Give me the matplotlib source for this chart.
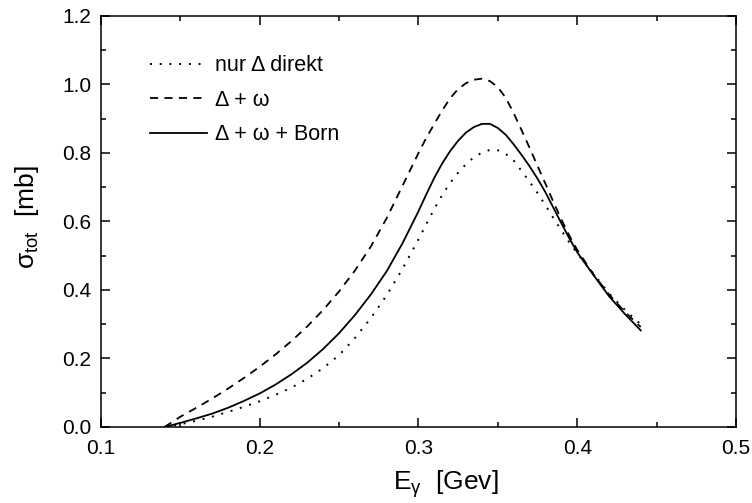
import matplotlib
matplotlib.use("Agg")
import matplotlib.pyplot as plt

plt.rcParams['font.family'] = ['Liberation Sans', 'DejaVu Sans']
plt.rcParams['mathtext.fontset'] = 'custom'
plt.rcParams['mathtext.rm'] = 'Liberation Sans'
plt.rcParams['mathtext.it'] = 'Liberation Sans'

# photon energy [GeV]
energy = [0.14, 0.15, 0.16, 0.17, 0.18, 0.19, 0.20, 0.21, 0.22, 0.23, 0.24, 0.25,
          0.26, 0.27, 0.28, 0.29, 0.30, 0.305, 0.31, 0.315, 0.32, 0.325, 0.33, 0.335,
          0.34, 0.345, 0.35, 0.355, 0.36, 0.365, 0.37, 0.375, 0.38, 0.385, 0.39, 0.395,
          0.40, 0.41, 0.42, 0.43, 0.44]

# nur Delta direkt (dotted)
sig_delta = [0.000, 0.008, 0.018, 0.030, 0.044, 0.059, 0.075, 0.094, 0.115, 0.141, 0.172, 0.210,
             0.260, 0.318, 0.385, 0.462, 0.548, 0.593, 0.637, 0.678, 0.713, 0.743, 0.768, 0.788,
             0.801, 0.809, 0.808, 0.797, 0.778, 0.747, 0.716, 0.683, 0.647, 0.610, 0.574, 0.539,
             0.507, 0.449, 0.390, 0.342, 0.300]

# Delta + omega (dashed)
sig_omega = [0.000, 0.030, 0.056, 0.083, 0.112, 0.143, 0.176, 0.212, 0.251, 0.294, 0.342, 0.396,
             0.457, 0.527, 0.610, 0.705, 0.800, 0.845, 0.885, 0.925, 0.960, 0.987, 1.004, 1.014,
             1.017, 1.010, 0.992, 0.961, 0.916, 0.866, 0.815, 0.762, 0.710, 0.657, 0.606, 0.559,
             0.517, 0.447, 0.387, 0.336, 0.292]

# Delta + omega + Born (solid)
sig_born = [0.000, 0.012, 0.025, 0.039, 0.056, 0.076, 0.098, 0.124, 0.154, 0.188, 0.228, 0.274,
            0.327, 0.387, 0.455, 0.537, 0.630, 0.680, 0.728, 0.770, 0.806, 0.836, 0.860, 0.876,
            0.885, 0.885, 0.873, 0.853, 0.825, 0.794, 0.761, 0.725, 0.685, 0.640, 0.595, 0.551,
            0.510, 0.445, 0.382, 0.330, 0.282]

fig = plt.figure(figsize=(7.52, 5.03), dpi=100)
ax = fig.add_axes([0.1343, 0.1511, 0.8444, 0.8171])

ax.plot(energy, sig_delta, color='black', lw=1.4, linestyle=(0, (1, 4)), label=u'nur \u0394 direkt')
ax.plot(energy, sig_omega, color='black', lw=1.3, linestyle=(0, (4.5, 3.5)), label=u'\u0394 + \u03c9')
ax.plot(energy, sig_born, color='black', lw=1.3, linestyle='-', label=u'\u0394 + \u03c9 + Born')

ax.set_xlim(0.1, 0.5)
ax.set_ylim(0.0, 1.2)
ax.set_xticks([0.1, 0.2, 0.3, 0.4, 0.5])
ax.set_xticks([0.15, 0.25, 0.35, 0.45], minor=True)
ax.set_yticks([0.0, 0.2, 0.4, 0.6, 0.8, 1.0, 1.2])
ax.set_yticks([0.1, 0.3, 0.5, 0.7, 0.9, 1.1], minor=True)
ax.set_xticklabels(['0.1', '0.2', '0.3', '0.4', '0.5'])
ax.set_yticklabels(['0.0', '0.2', '0.4', '0.6', '0.8', '1.0', '1.2'])

ax.tick_params(which='both', direction='in', top=True, right=True, width=1.1)
ax.tick_params(which='major', length=6.5, labelsize=15)
ax.tick_params(axis='x', which='major', pad=9)
ax.tick_params(axis='y', which='major', pad=7)
ax.tick_params(which='minor', length=3.8)
for sp in ax.spines.values():
    sp.set_linewidth(1.1)

ax.set_xlabel(r'E$_{\gamma}$  [Gev]', fontsize=19)
ax.set_ylabel(r'$\sigma_{\mathrm{tot}}$  [mb]', fontsize=19)
ax.xaxis.set_label_coords(0.543, -0.10)
ax.yaxis.set_label_coords(-0.095, 0.51)

ax.legend(loc='upper left', bbox_to_anchor=(0.077, 0.905), frameon=False, fontsize=15.5,
          handlelength=2.65, handletextpad=0.37, labelspacing=0.63,
          borderpad=0, borderaxespad=0)

fig.savefig('out.png', dpi=100)
